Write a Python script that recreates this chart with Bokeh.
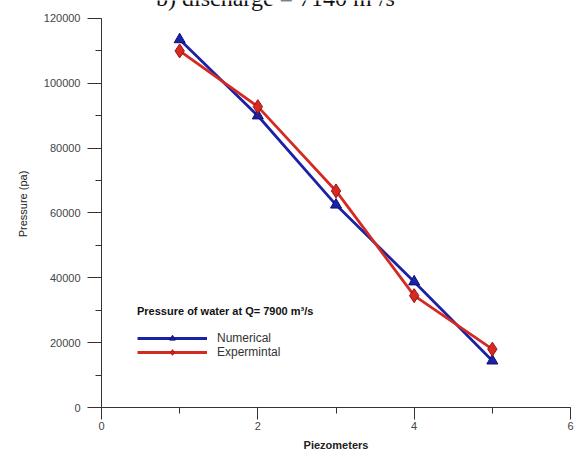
from bokeh.plotting import figure
from bokeh.models import (Range1d, SingleIntervalTicker, BasicTickFormatter, Legend,
                          LegendItem, Label)
from bokeh.embed import file_html
from bokeh.resources import INLINE

# ---- data ----
piezometers = [1, 2, 3, 4, 5]
numerical = [113500, 90000, 62500, 38800, 14400]
experimental = [110000, 92800, 66800, 34500, 18000]
series_names = ["Numerical", "Expermintal"]
title_text = "b) discharge = 7140 m\u00b3/s"
legend_title = "Pressure of water at Q= 7900 m\u00b3/s"
x_label = "Piezometers"
y_label = "Pressure (pa)"
y_axis_max = 120000

W, H = 581, 453
FRAME_BOTTOM = 408          # px from top where y = 0
AXIS_TOP = 18               # px from top where y = y_axis_max
y_view_top = y_axis_max * FRAME_BOTTOM / (FRAME_BOTTOM - AXIS_TOP)

p = figure(width=W, height=H, output_backend="svg", toolbar_location=None,
           x_range=Range1d(0, 6), y_range=Range1d(0, y_view_top),
           min_border_left=101, min_border_right=11, min_border_top=0,
           min_border_bottom=H - FRAME_BOTTOM)
p.outline_line_color = None
p.xgrid.visible = False
p.ygrid.visible = False
p.background_fill_color = "white"
p.border_fill_color = "white"

FONT = "Liberation Sans"
for ax in (p.xaxis[0], p.yaxis[0]):
    ax.axis_line_color = "#333333"
    ax.major_tick_line_color = "#333333"
    ax.minor_tick_line_color = "#333333"
    ax.major_tick_in = 0
    ax.minor_tick_in = 0
    ax.major_label_text_font = FONT
    ax.major_label_text_font_size = "11px"
    ax.major_label_text_color = "#444444"
    ax.axis_label_text_font = FONT
    ax.axis_label_text_color = "#222222"

p.xaxis.ticker = SingleIntervalTicker(interval=2, num_minor_ticks=2)
p.xaxis.major_tick_out = 12
p.xaxis.minor_tick_out = 6
p.xaxis.major_label_standoff = 2
p.xaxis.axis_label = x_label
p.xaxis.axis_label_text_font_style = "bold"
p.xaxis.axis_label_text_font_size = "11px"
p.xaxis.axis_label_standoff = 6

p.yaxis.ticker = SingleIntervalTicker(interval=20000, num_minor_ticks=2)
p.yaxis.bounds = (0, y_axis_max)
p.yaxis.formatter = BasicTickFormatter(use_scientific=False)
p.yaxis.major_tick_out = 14
p.yaxis.minor_tick_out = 6
p.yaxis.major_label_standoff = 7
p.yaxis.axis_label = y_label
p.yaxis.axis_label_text_font_style = "normal"
p.yaxis.axis_label_text_font_size = "11px"
p.yaxis.axis_label_standoff = 12

BLUE = "#1c22a6"
RED = "#d42a22"
l1 = p.line(piezometers, numerical, line_color=BLUE, line_width=2.8)
m1 = p.scatter(piezometers, numerical, marker="triangle", size=11,
               fill_color=BLUE, line_color="#0d1170", line_width=1)
l2 = p.line(piezometers, experimental, line_color=RED, line_width=2.8)
m2 = p.scatter(piezometers, experimental, marker="diamond", size=14,
               fill_color=RED, line_color="#a01010", line_width=1)

legend = Legend(items=[LegendItem(label=series_names[0], renderers=[l1, m1]),
                       LegendItem(label=series_names[1], renderers=[l2, m2])],
                location=(36, 48), title=legend_title,
                title_text_font=FONT, title_text_font_style="bold",
                title_text_font_size="11px", title_text_color="#111111",
                title_standoff=14,
                label_text_font=FONT, label_text_font_size="12px",
                label_text_color="#333333",
                glyph_width=70, glyph_height=14, label_height=14, spacing=0,
                label_standoff=10, padding=0, margin=0,
                border_line_alpha=0, background_fill_alpha=0)
p.add_layout(legend, "center")

# title sits partly above the top edge, as in the reference (relative to frame)
p.add_layout(Label(x=174, y=410, x_units="screen", y_units="screen",
                   text=title_text, text_font="Liberation Serif",
                   text_font_size="24px", text_align="center",
                   text_baseline="alphabetic", text_color="#111111"))

open("out.html", "w").write(file_html(p, INLINE))
